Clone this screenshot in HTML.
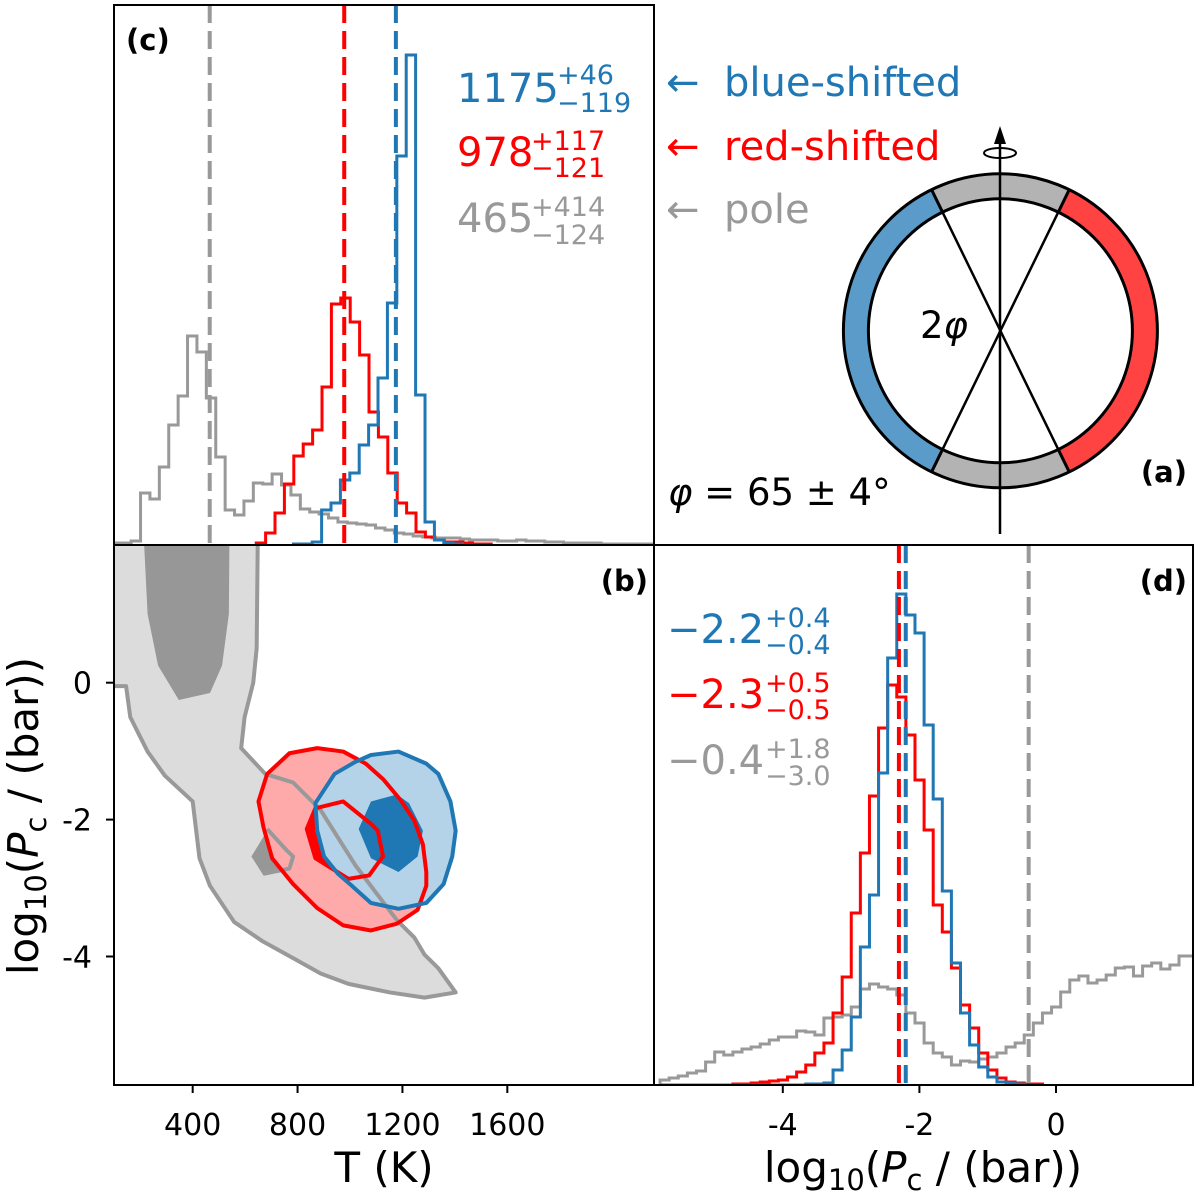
<!DOCTYPE html>
<html><head><meta charset="utf-8"><title>Figure</title>
<style>
html,body{margin:0;padding:0;background:#fff;}
svg{display:block;font-family:"DejaVu Sans","Liberation Sans",sans-serif;}
</style></head>
<body>
<svg id="chart" width="1200" height="1197" viewBox="0 0 1200 1197" xmlns="http://www.w3.org/2000/svg">
<defs>
<clipPath id="clipC"><rect x="114" y="5" width="540" height="540"/></clipPath>
<clipPath id="clipB"><rect x="114" y="545" width="540" height="540"/></clipPath>
<clipPath id="clipD"><rect x="654" y="545" width="539" height="540"/></clipPath>
</defs>
<g id="layerC" clip-path="url(#clipC)"></g>
<g id="layerB" clip-path="url(#clipB)"></g>
<g id="layerD" clip-path="url(#clipD)"></g>
<g id="layerA"></g>
<g id="frames">
<rect x="114" y="5" width="540" height="540" fill="none" stroke="#000" stroke-width="2"/>
<rect x="114" y="545" width="540" height="540" fill="none" stroke="#000" stroke-width="2"/>
<rect x="654" y="545" width="539" height="540" fill="none" stroke="#000" stroke-width="2"/>
</g>
<g id="ticks"></g>
<g font-weight="bold" font-size="29">
<text x="126" y="50">(c)</text>
<text x="648" y="591" text-anchor="end">(b)</text>
<text x="1187" y="591" text-anchor="end">(d)</text>
<text x="1187" y="482" text-anchor="end">(a)</text>
</g>
<g>
<text x="457" y="102" font-size="40" fill="#1f77b4">1175</text>
<text x="557" y="84" font-size="27" fill="#1f77b4">+46</text>
<text x="557" y="112" font-size="27" fill="#1f77b4">−119</text>
<text x="457" y="166" font-size="40" fill="#ff0000">978</text>
<text x="531" y="150" font-size="27" fill="#ff0000">+117</text>
<text x="531" y="177" font-size="27" fill="#ff0000">−121</text>
<text x="457" y="232" font-size="40" fill="#999999">465</text>
<text x="531" y="216" font-size="27" fill="#999999">+414</text>
<text x="531" y="244" font-size="27" fill="#999999">−124</text>
</g>
<g>
<text x="667" y="643" font-size="40" fill="#1f77b4">−2.2</text>
<text x="765" y="627" font-size="27" fill="#1f77b4">+0.4</text>
<text x="765" y="654" font-size="27" fill="#1f77b4">−0.4</text>
<text x="667" y="708" font-size="40" fill="#ff0000">−2.3</text>
<text x="765" y="692" font-size="27" fill="#ff0000">+0.5</text>
<text x="765" y="719" font-size="27" fill="#ff0000">−0.5</text>
<text x="667" y="774" font-size="40" fill="#999999">−0.4</text>
<text x="765" y="758" font-size="27" fill="#999999">+1.8</text>
<text x="765" y="785" font-size="27" fill="#999999">−3.0</text>
</g>
<g font-size="40">
<text x="666" y="96" fill="#1f77b4">←</text>
<text x="724" y="96" fill="#1f77b4">blue-shifted</text>
<text x="666" y="160" fill="#ff0000">←</text>
<text x="724" y="160" fill="#ff0000">red-shifted</text>
<text x="666" y="223" fill="#999999">←</text>
<text x="724" y="223" fill="#999999">pole</text>
</g>
<text x="668" y="505" font-size="37"><tspan font-style="italic">φ</tspan> = 65 ± 4°</text>
<text x="920" y="338" font-size="37">2<tspan font-style="italic">φ</tspan></text>
<text x="384" y="1182" font-size="42" text-anchor="middle">T (K)</text>
<text x="923" y="1182" font-size="42" text-anchor="middle">log<tspan font-size="29" dy="8">10</tspan><tspan dy="-8">(</tspan><tspan font-style="italic">P</tspan><tspan font-size="29" dy="8">c</tspan><tspan dy="-8"> / (bar))</tspan></text>
<text transform="translate(38,816) rotate(-90)" font-size="42" text-anchor="middle">log<tspan font-size="29" dy="8">10</tspan><tspan dy="-8">(</tspan><tspan font-style="italic">P</tspan><tspan font-size="29" dy="8">c</tspan><tspan dy="-8"> / (bar))</tspan></text>
</svg>
<script>
// ---- Panel (c): temperature histograms ----
const tempBinWidth = 35.85;
const tempGrayStart = 93.6;
const tempRedStart = 642.3;
const tempBlueStart = 784.2;
const tempGrayCounts = [2,2,4,52,46,78,120,149,209,193,147,88,35,30,44,62,61,71,60,50,36,33,31,27,23,22,21,20,17,15,12,11,9,8,7,7,7,6,5,5,5,4,4,5,4,4,3,3,2,2,2,2,1,1,1,1,1,1];
const tempRedCounts = [2,12,32,61,89,101,115,158,241,247,223,190,133,108,72,42,32,13,8,5,3,3,2,1,1];
const tempBlueCounts = [1,1,3,35,42,65,72,100,120,167,242,389,490,150,23,5,2,1];
const tempMedians = [465, 978, 1175];
const tempTicks = [400, 800, 1200, 1600];
// ---- Panel (d): pressure histograms ----
const presBinWidth = 0.1333;
const presStart = -5.797;
const presGrayCounts = [5,7,9,12,14,23,33,30,33,36,38,41,45,48,48,54,53,50,67,68,70,78,96,101,98,96,90,72,62,42,32,28,20,24,23,26,28,32,38,42,50,62,72,78,93,105,109,102,105,110,117,118,109,119,122,116,120,129,129,130];
const presRedCounts = [0,0,0,0,0,0,0,0,1,1,2,3,4,5,8,13,20,32,42,72,108,172,232,289,357,400,388,350,305,255,180,153,117,80,57,32,15,7,3,2,1,1];
const presBlueCounts = [0,0,0,0,0,0,0,0,0,0,0,0,0,0,0,0,1,1,2,15,35,68,138,190,312,427,491,470,452,360,286,194,122,72,40,18,8,3,2,1];
const presMedians = [-0.4, -2.3, -2.2];
const presTicks = [-4, -2, 0];
const presTickLabels = ["-4", "-2", "0"];
// ---- Panel (b): 2D contours (T [K], log10 P) ----
const poleOuter = [[0,-0.05],[146,-0.05],[162,-0.503],[228,-1.006],[294,-1.358],[400,-1.735],[426,-2.564],[466,-2.967],[558,-3.495],[664,-3.771],[783,-4.023],[888,-4.249],[994,-4.400],[1152,-4.525],[1284,-4.601],[1403,-4.525],[1337,-4.173],[1284,-3.972],[1245,-3.721],[1179,-3.470],[1099,-3.067],[1020,-2.665],[954,-2.263],[888,-1.860],[783,-1.458],[677,-1.333],[585,-0.956],[598,-0.503],[631,0.0],[644,0.503],[648,2.01],[648,3],[0,3]];
const poleInnerTop = [[215,3],[215,2.01],[228,1.005],[268,0.251],[347,-0.252],[466,-0.151],[512,0.251],[538,1.005],[542,3]];
const poleInnerSmall = [[684,-2.162],[624,-2.539],[670,-2.816],[769,-2.715],[783,-2.539],[756,-2.439]];
const poleHoleLine = [[684,-2.137],[756,-2.439],[783,-2.539],[769,-2.715],[670,-2.791]];
const redOuter = [[684,-1.333],[769,-1.031],[875,-0.956],[974,-1.006],[1060,-1.182],[1126,-1.408],[1192,-1.710],[1245,-2.011],[1278,-2.363],[1291,-2.765],[1291,-2.967],[1258,-3.319],[1179,-3.520],[1080,-3.620],[974,-3.545],[875,-3.293],[783,-2.942],[703,-2.564],[670,-2.112],[651,-1.735]];
const redInner = [[868,-1.835],[974,-1.735],[1080,-2.062],[1106,-2.162],[1126,-2.539],[1106,-2.640],[1073,-2.816],[994,-2.866],[868,-2.564],[835,-2.137]];
const blueOuter = [[868,-1.760],[941,-1.333],[1020,-1.157],[1080,-1.056],[1185,-1.006],[1291,-1.182],[1337,-1.333],[1383,-1.735],[1403,-2.162],[1390,-2.539],[1357,-2.942],[1291,-3.218],[1185,-3.303],[1080,-3.218],[1007,-2.967],[954,-2.791],[901,-2.539],[875,-2.162]];
const blueInner = [[1080,-1.735],[1179,-1.634],[1225,-1.760],[1278,-2.162],[1258,-2.539],[1185,-2.765],[1080,-2.564],[1033,-2.137]];
const presYTicks = [0, -2, -4];
const presYTickLabels = ["0", "-2", "-4"];

const NS = "http://www.w3.org/2000/svg";
const xT = t => 87.8 + 0.2622 * t;
const yP = p => 682.7 - 68.45 * p;
const xL = p => 1056 + 68.3 * p;
const yC = c => 545 - c;
const yD = c => 1085 - c;

function mk(tag, parent) { const e = document.createElementNS(NS, tag); parent.appendChild(e); return e; }

function histPath(counts, start, width, xs, ys) {
  let d = "M" + xs(start) + "," + ys(0);
  counts.forEach((c, i) => {
    const x0 = xs(start + i * width), x1 = xs(start + (i + 1) * width);
    d += " L" + x0 + "," + ys(c) + " L" + x1 + "," + ys(c);
  });
  d += " L" + xs(start + counts.length * width) + "," + ys(0);
  return d;
}
function polyPts(arr) { return arr.map(p => xT(p[0]) + "," + yP(p[1])).join(" "); }

const layerC = document.getElementById('layerC');
const layerB = document.getElementById('layerB');
const layerD = document.getElementById('layerD');
const layerA = document.getElementById('layerA');
const ticks = document.getElementById('ticks');
const medColors = ["#999999", "#ff0000", "#1f77b4"];

[[tempGrayCounts, tempGrayStart, "#999999", "hist-temperature-pole"],
 [tempRedCounts, tempRedStart, "#ff0000", "hist-temperature-red"],
 [tempBlueCounts, tempBlueStart, "#1f77b4", "hist-temperature-blue"]].forEach(s => {
  const p = mk('path', layerC);
  
  
  p.setAttribute('d', histPath(s[0], s[1], tempBinWidth, xT, yC));
  p.setAttribute('fill', 'none'); p.setAttribute('stroke', s[2]); p.setAttribute('stroke-width', '3');
});
tempMedians.forEach((m, i) => {
  const l = mk('line', layerC);
  
  
  l.setAttribute('x1', xT(m)); l.setAttribute('x2', xT(m)); l.setAttribute('y1', 5); l.setAttribute('y2', 545);
  l.setAttribute('stroke', medColors[i]); l.setAttribute('stroke-width', '4'); l.setAttribute('stroke-dasharray', '18 8');
});

[[presGrayCounts, "#999999", "hist-pressure-pole"],
 [presRedCounts, "#ff0000", "hist-pressure-red"],
 [presBlueCounts, "#1f77b4", "hist-pressure-blue"]].forEach(s => {
  const p = mk('path', layerD);
  
  
  p.setAttribute('d', histPath(s[0], presStart, presBinWidth, xL, yD));
  p.setAttribute('fill', 'none'); p.setAttribute('stroke', s[1]); p.setAttribute('stroke-width', '3');
});
presMedians.forEach((m, i) => {
  const l = mk('line', layerD);
  
  
  l.setAttribute('x1', xL(m)); l.setAttribute('x2', xL(m)); l.setAttribute('y1', 545); l.setAttribute('y2', 1085);
  l.setAttribute('stroke', medColors[i]); l.setAttribute('stroke-width', '4'); l.setAttribute('stroke-dasharray', '18 8');
});

function poly(arr, fill, stroke, name, closed) {
  const e = mk(closed ? 'polygon' : 'polyline', layerB);
  
  
  e.setAttribute('points', polyPts(arr));
  e.setAttribute('fill', fill);
  if (stroke) { e.setAttribute('stroke', stroke); e.setAttribute('stroke-width', '4'); e.setAttribute('stroke-linejoin', 'round'); }
}
poly(poleOuter, '#dcdcdc', null, 'contour-pole-outer-fill', true);
poly(poleInnerTop, '#979797', null, 'contour-pole-inner-top', true);
poly(poleInnerSmall, '#979797', null, 'contour-pole-inner-small', true);
poly(redOuter, '#ffaaaa', null, 'contour-red-outer-fill', true);
poly(redInner, '#ff0000', null, 'contour-red-inner-fill', true);
poly(blueOuter, '#b4d2e8', null, 'contour-blue-outer-fill', true);
poly(blueInner, '#1f77b4', null, 'contour-blue-inner-fill', true);
poly(poleOuter.slice(0, poleOuter.length - 1), 'none', '#999999', 'contour-pole-outer-line', false);
poly(poleHoleLine, 'none', '#999999', 'contour-pole-hole-line', false);
poly(redOuter, 'none', '#ff0000', 'contour-red-outer-line', true);
poly(redInner, 'none', '#ff0000', 'contour-red-inner-line', true);
poly(blueOuter, 'none', '#1f77b4', 'contour-blue-outer-line', true);

function tick(x1, y1, x2, y2, name) {
  const l = mk('line', ticks);
  
  
  l.setAttribute('x1', x1); l.setAttribute('y1', y1); l.setAttribute('x2', x2); l.setAttribute('y2', y2);
  l.setAttribute('stroke', '#000'); l.setAttribute('stroke-width', '2');
}
function label(x, y, txt, anchor, name) {
  const t = mk('text', ticks);
  
  
  t.setAttribute('x', x); t.setAttribute('y', y); t.setAttribute('text-anchor', anchor);
  t.setAttribute('font-size', '30'); t.textContent = txt;
}
tempTicks.forEach(t => { tick(xT(t), 1085, xT(t), 1093, 'x-tick-temperature'); label(xT(t), 1135, String(t), 'middle', 'x-tick-label-temperature'); });
presTicks.forEach((p, i) => { tick(xL(p), 1085, xL(p), 1093, 'x-tick-pressure'); label(xL(p), 1135, presTickLabels[i], 'middle', 'x-tick-label-pressure'); });
presYTicks.forEach((p, i) => { tick(106, yP(p), 114, yP(p), 'y-tick-pressure'); label(92, yP(p) + 11, presYTickLabels[i], 'end', 'y-tick-label-pressure'); });

const cx = 1000.4, cy = 330.8, rO = 157, rI = 132, rM = 144.5;
const rad = a => a * Math.PI / 180;
const pt = (r, a) => [cx + r * Math.sin(rad(a)), cy - r * Math.cos(rad(a))];
function arc(a0, a1, color, name) {
  const p0 = pt(rM, a0), p1 = pt(rM, a1);
  const large = (a1 - a0) > 180 ? 1 : 0;
  const e = mk('path', layerA);
  
  
  e.setAttribute('d', `M${p0[0]},${p0[1]} A${rM},${rM} 0 ${large} 1 ${p1[0]},${p1[1]}`);
  e.setAttribute('fill', 'none'); e.setAttribute('stroke', color); e.setAttribute('stroke-width', rO - rI);
}
arc(-26, 26, '#b3b3b3', 'ring-pole-top');
arc(26, 154, '#ff4242', 'ring-red-shifted');
arc(154, 206, '#b3b3b3', 'ring-pole-bottom');
arc(206, 334, '#5a9bc9', 'ring-blue-shifted');
[rO, rI].forEach(r => {
  const c = mk('circle', layerA);
  
  
  c.setAttribute('cx', cx); c.setAttribute('cy', cy); c.setAttribute('r', r);
  c.setAttribute('fill', 'none'); c.setAttribute('stroke', '#000'); c.setAttribute('stroke-width', '3');
});
[26, 154, 206, 334].forEach(a => {
  const p0 = pt(rI, a), p1 = pt(rO, a);
  const l = mk('line', layerA);
  
  
  l.setAttribute('x1', p0[0]); l.setAttribute('y1', p0[1]); l.setAttribute('x2', p1[0]); l.setAttribute('y2', p1[1]);
  l.setAttribute('stroke', '#000'); l.setAttribute('stroke-width', '3');
});
[[334, 154], [26, 206]].forEach(pr => {
  const p0 = pt(rI, pr[0]), p1 = pt(rI, pr[1]);
  const l = mk('line', layerA);
  
  
  l.setAttribute('x1', p0[0]); l.setAttribute('y1', p0[1]); l.setAttribute('x2', p1[0]); l.setAttribute('y2', p1[1]);
  l.setAttribute('stroke', '#000'); l.setAttribute('stroke-width', '2.5');
});
const axis = mk('line', layerA);


axis.setAttribute('x1', 1000); axis.setAttribute('y1', 534); axis.setAttribute('x2', 1000); axis.setAttribute('y2', 140);
axis.setAttribute('stroke', '#000'); axis.setAttribute('stroke-width', '2.5');
const head = mk('polygon', layerA);


head.setAttribute('points', '1000,126 994,144 1006,144');
const rot = mk('ellipse', layerA);


rot.setAttribute('cx', 1000); rot.setAttribute('cy', 153); rot.setAttribute('rx', 16); rot.setAttribute('ry', 5);
rot.setAttribute('fill', 'none'); rot.setAttribute('stroke', '#000'); rot.setAttribute('stroke-width', '2');
</script>
</body></html>
